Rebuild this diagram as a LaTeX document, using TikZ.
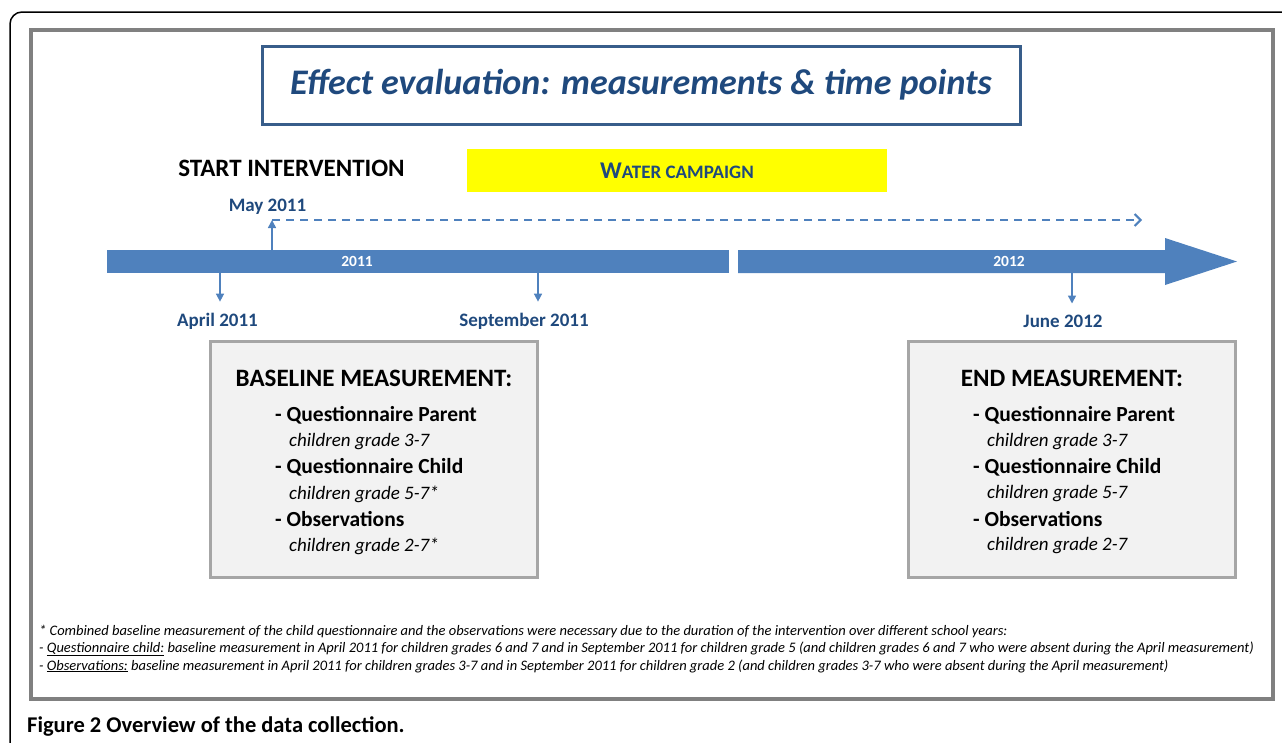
\documentclass[tikz,border=0pt]{standalone}
\usepackage{fontspec}
\setmainfont{Carlito}
\usetikzlibrary{arrows.meta,positioning}
\definecolor{evblue}{HTML}{4F81BD}
\definecolor{evnavy}{HTML}{1F497D}
\definecolor{evframe}{HTML}{385D8A}
\definecolor{evgray}{HTML}{F2F2F2}
\definecolor{evedge}{HTML}{A6A6A6}
\definecolor{evyellow}{HTML}{FFFF00}
\tikzset{
  titlebox/.style={draw=evframe,line width=3pt,minimum width=758pt,minimum height=78pt,inner sep=0pt,
    font=\fontsize{36}{36}\selectfont\bfseries\itshape,text=evnavy},
  yearlbl/.style={font=\fontsize{15.5}{15.5}\selectfont\bfseries,text=white,inner sep=0pt},
  datelbl/.style={font=\fontsize{19}{19}\selectfont\bfseries,text=evnavy,inner sep=0pt},
  tick/.style={-{Triangle[length=8pt,width=8pt]},draw=evblue,line width=1.5pt},
  dashline/.style={-{Straight Barb[length=6pt,width=12pt]},draw=evblue,line width=2pt,dash pattern=on 8pt off 6pt},
  measbox/.style={draw=evedge,fill=evgray,line width=3pt,minimum width=327pt,minimum height=236pt,inner sep=0pt},
  headlbl/.style={font=\fontsize{25}{25}\selectfont\bfseries,inner sep=0pt},
  item/.style={font=\fontsize{21.5}{21.5}\selectfont\bfseries,anchor=west,inner sep=0pt},
  subitem/.style={font=\fontsize{19}{19}\selectfont\itshape,anchor=west,inner sep=0pt},
  note/.style={font=\fontsize{14.5}{14.5}\selectfont\itshape,anchor=west,inner sep=0pt},
}
\begin{document}
\begin{tikzpicture}[x=1pt,y=-1pt]
  \useasboundingbox (0,0) rectangle (1282,742);
  % frames
  \draw[line width=1.5pt,rounded corners=12pt] (10,780) -- (10,12) -- (1320,12);
  \draw[line width=4pt,draw=gray] (31,30) rectangle (1273,699);
  % title and header
  \node[titlebox] (title) at (641,85) {Effect evaluation: measurements \& time points};
  \node[font=\fontsize{25}{25}\selectfont\bfseries,inner sep=0pt] (start) at (291.5,168) {START INTERVENTION};
  \node[fill=evyellow,minimum width=420pt,minimum height=43pt,inner sep=0pt,text=evnavy,font=\bfseries] (campaign) at (677,170.5)
    {\fontsize{24}{24}\selectfont W\fontsize{19}{19}\selectfont ATER CAMPAIGN};
  % timeline
  \fill[evblue] (107,250) rectangle (729,273);
  \fill[evblue] (738,250) -- (1165,250) -- (1165,238) -- (1237,261.5) -- (1165,285) -- (1165,273) -- (738,273) -- cycle;
  \node[yearlbl] (y2011) at (357,261.5) {2011};
  \node[yearlbl] (y2012) at (1009,261.5) {2012};
  % time points
  \node[datelbl] (maylbl) at (267.5,207) {May 2011};
  \node[datelbl] (aprlbl) at (217.5,321) {April 2011};
  \node[datelbl] (seplbl) at (524,321) {September 2011};
  \node[datelbl] (junlbl) at (1063,321) {June 2012};
  \coordinate (may) at (272,250);
  \coordinate (mayup) at (272,220);
  \coordinate (dashend) at (1142,220);
  \draw[tick] (may) -- (mayup);
  \draw[dashline] (mayup) -- (dashend);
  \foreach \pt/\lbl/\xx in {apr/aprlbl/220,sep/seplbl/538,jun/junlbl/1072}{
    \coordinate (\pt) at (\xx,273);
    \draw[tick] (\pt) -- ([yshift=11pt]\pt |- \lbl.north);
  }
  % measurement boxes
  \node[measbox] (basebox) at (374,459.5) {};
  \node[measbox] (endbox) at (1072,459.5) {};
  \node[headlbl] (basehead) at (374,378) {BASELINE MEASUREMENT:};
  \node[headlbl] (endhead) at (1072,378) {END MEASUREMENT:};
  \foreach \bx/\xl/\st in {base/275/*,end/973/}{
    \node[item] (\bx qp) at (\xl,415) {- Questionnaire Parent};
    \node[subitem] (\bx gp) at (\xl+14,442) {children grade 3-7};
    \node[item] (\bx qc) at (\xl,467) {- Questionnaire Child};
    \node[subitem] (\bx gc) at (\xl+14,494) {children grade 5-7\st};
    \node[item] (\bx ob) at (\xl,519) {- Observations};
    \node[subitem] (\bx go) at (\xl+14,546) {children grade 2-7\st};
  }
  % footnotes
  \node[note] (note1) at (39,632) {* Combined baseline measurement of the child questionnaire and the observations were necessary due to the duration of the intervention over different school years:};
  \node[note] (note2) at (39,649) {- \underline{Questionnaire child:} baseline measurement in April 2011 for children grades 6 and 7 and in September 2011 for children grade 5 (and children grades 6 and 7 who were absent during the April measurement)};
  \node[note] (note3) at (39,666) {- \underline{Observations:} baseline measurement in April 2011 for children grades 3-7 and in September 2011 for children grade 2 (and children grades 3-7 who were absent during the April measurement)};
  \node[anchor=west,inner sep=0pt,font=\fontsize{22.5}{22.5}\selectfont\bfseries] (caption) at (27,726) {Figure 2 Overview of the data collection.};
\end{tikzpicture}
\end{document}
